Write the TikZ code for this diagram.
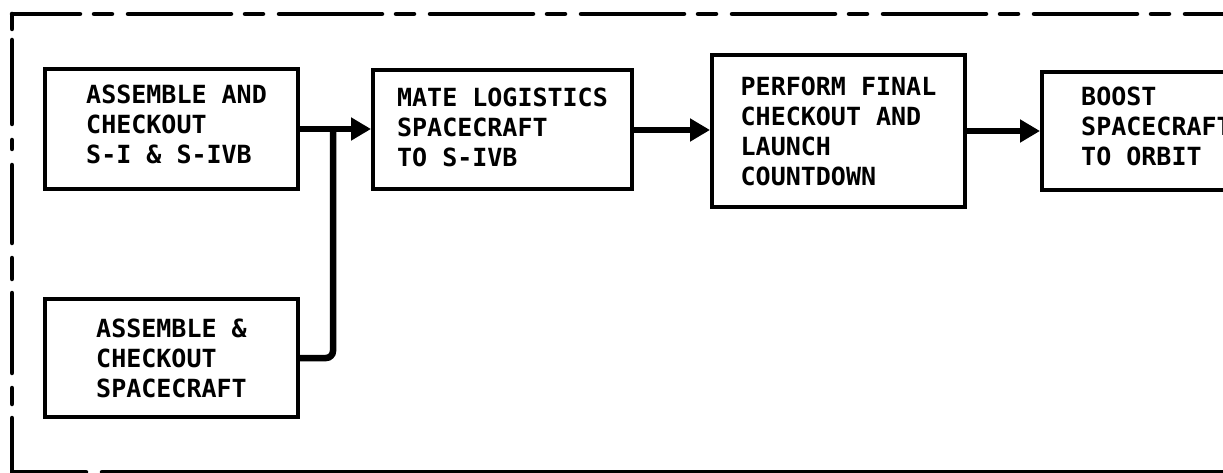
\documentclass[tikz,border=0pt]{standalone}
\usepackage{fontspec}
\newfontfamily\lettering{DejaVu Sans Mono}
\usetikzlibrary{arrows.meta,calc}
\tikzset{
  box/.style={draw=black, line width=4pt, fill=white, rectangle, inner sep=0pt},
  lbl/.style={align=left, inner sep=0pt, font={\fontsize{25}{30}\lettering\bfseries}},
  conn/.style={draw=black, line width=6.5pt},
  arr/.style={conn, -{Triangle[length=20pt,width=22pt]}},
  frame/.style={draw=black, line width=4.5pt, line cap=round}
}
\begin{document}
\begin{tikzpicture}[x=1pt,y=-1pt]
\useasboundingbox (0,0) rectangle (1223,473);
\fill[white] (0,0) rectangle (1223,473);
% dashed frame
\draw[frame, dash pattern=on 103pt off 14pt on 18pt off 16pt, dash phase=35pt] (12,14) -- (1240,14);
\draw[frame, dash pattern=on 15pt off 11pt on 84pt off 16pt on 9pt off 16pt on 78pt off 15pt on 21pt off 14pt on 80pt off 15pt on 16pt off 14pt on 128pt off 16pt on 1200pt] (12,14) -- (12,472) -- (1240,472);
% boxes
\node[box, minimum width=253pt, minimum height=120pt] (b1) at (171.5,129) {};
\node[box, minimum width=253pt, minimum height=118pt] (b2) at (171.5,358) {};
\node[box, minimum width=259pt, minimum height=119pt] (b3) at (502.5,130) {};
\node[box, minimum width=253pt, minimum height=152pt] (b4) at (838.5,131) {};
\node[box, minimum width=253pt, minimum height=118pt] (b5) at (1168.5,131) {};
% texts
\node[lbl, anchor=west] (t1) at ([xshift=43pt,yshift=5pt]b1.west) {ASSEMBLE AND\\CHECKOUT\\S-I \& S-IVB};
\node[lbl] (t2) at (b2) {ASSEMBLE \&\\CHECKOUT\\SPACECRAFT};
\node[lbl] (t3) at ([yshift=3pt]b3.center) {MATE LOGISTICS\\SPACECRAFT\\TO S-IVB};
\node[lbl] (t4) at (b4) {PERFORM FINAL\\CHECKOUT AND\\LAUNCH\\COUNTDOWN};
\node[lbl, anchor=west] (t5) at ([xshift=41pt,yshift=5pt]b5.west) {BOOST\\SPACECRAFT\\TO ORBIT};
% connectors
\coordinate (j) at ($(b1.east)+(33,0)$);
\draw[conn, rounded corners=7pt] (b2.east) -| (j);
\draw[arr] (b1.east) -- (b1.east -| b3.west);
\draw[arr] (b3.east) -- (b3.east -| b4.west);
\draw[arr] (b4.east) -- (b4.east -| b5.west);
\end{tikzpicture}
\end{document}
